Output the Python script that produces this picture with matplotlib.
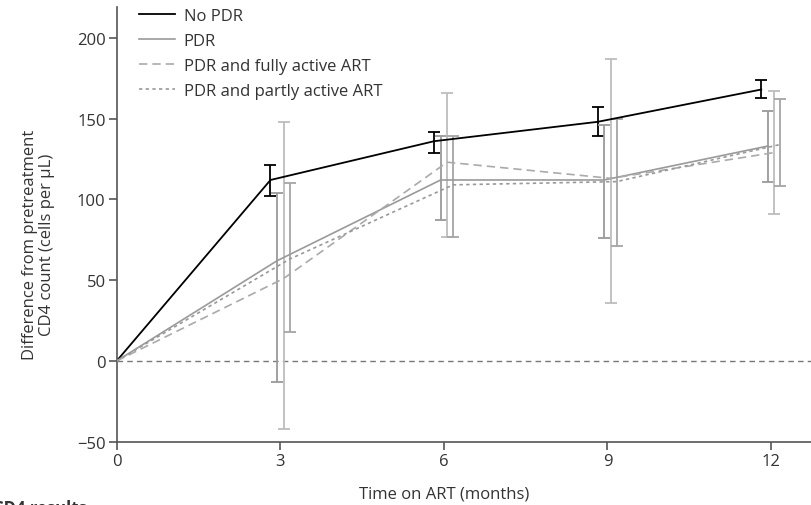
import numpy as np
import matplotlib.pyplot as plt

plt.rcParams['font.family'] = ['Open Sans', 'DejaVu Sans']

months = [0, 3, 6, 9, 12]

no_pdr = [0, 112, 136, 148, 168]
no_pdr_lo = [0, 102, 129, 139, 163]
no_pdr_hi = [0, 121, 142, 157, 174]

pdr = [0, 62, 112, 112, 133]
pdr_lo = [0, -13, 87, 76, 111]
pdr_hi = [0, 104, 139, 146, 155]

fully = [0, 51, 123, 113, 129]
fully_lo = [0, -42, 77, 36, 91]
fully_hi = [0, 148, 166, 187, 167]

partly = [0, 63, 109, 111, 134]
partly_lo = [0, 18, 77, 71, 108]
partly_hi = [0, 110, 139, 150, 162]

labels = ["No PDR", "PDR", "PDR and fully active ART", "PDR and partly active ART"]

txt = '#333333'
fs = 12
fig = plt.figure(figsize=(8.12, 5.06), dpi=100)
ax = fig.add_axes([0.1437, 0.125, 0.8563, 0.859])

def draw(vals, lo, hi, off, color, ls, lw, ecolor, label):
    x = np.array(months, dtype=float)
    x[1:] += off
    v = np.array(vals, dtype=float)
    ax.plot(x, v, color=color, ls=ls, lw=lw, label=label, zorder=3)
    err = np.array([v[1:] - np.array(lo[1:]), np.array(hi[1:]) - v[1:]])
    ax.errorbar(x[1:], v[1:], yerr=err, fmt='none', ecolor=ecolor,
                elinewidth=1.3, capsize=4, capthick=1.3, zorder=2)

ax.axhline(0, color='#777777', lw=1.0, ls=(0, (4, 3)), zorder=1)

draw(no_pdr, no_pdr_lo, no_pdr_hi, -0.18, 'black', '-', 1.3, 'black', labels[0])
draw(pdr, pdr_lo, pdr_hi, -0.06, '#9a9a9a', '-', 1.2, '#9a9a9a', labels[1])
draw(fully, fully_lo, fully_hi, 0.06, '#aaaaaa', (0, (5, 3)), 1.2, '#bdbdbd', labels[2])
draw(partly, partly_lo, partly_hi, 0.17, '#999999', (0, (2, 2)), 1.2, '#a5a5a5', labels[3])

ax.set_xlim(0, 12.75)
ax.set_ylim(-50, 219)
ax.set_xticks([0, 3, 6, 9, 12])
ax.set_yticks([-50, 0, 50, 100, 150, 200])
for s in ['top', 'right']:
    ax.spines[s].set_visible(False)
for s in ['left', 'bottom']:
    ax.spines[s].set_color('#555555')
    ax.spines[s].set_linewidth(1.2)
ax.tick_params(direction='out', length=6, width=1.2, color='#555555',
               labelsize=fs, labelcolor=txt, pad=2)

ax.set_xlabel("Time on ART (months)", fontsize=fs, color=txt)
ax.xaxis.set_label_coords(6 / 12.75, -0.1)
ax.set_ylabel("Difference from pretreatment\nCD4 count (cells per μL)",
              fontsize=fs, color=txt, linespacing=1.1)
ax.yaxis.set_label_coords(-0.089, 0.455)

leg = ax.legend(loc='upper left', bbox_to_anchor=(0.01, 1.033), frameon=False,
                fontsize=fs, handlelength=2.2, labelspacing=0.55,
                handletextpad=0.5)
for t in leg.get_texts():
    t.set_color(txt)

fig.text(-0.009, 0.012, "CD4 results", fontsize=fs, fontweight='bold',
         color=txt, va='top', ha='left')

fig.savefig('out.png', dpi=100)
